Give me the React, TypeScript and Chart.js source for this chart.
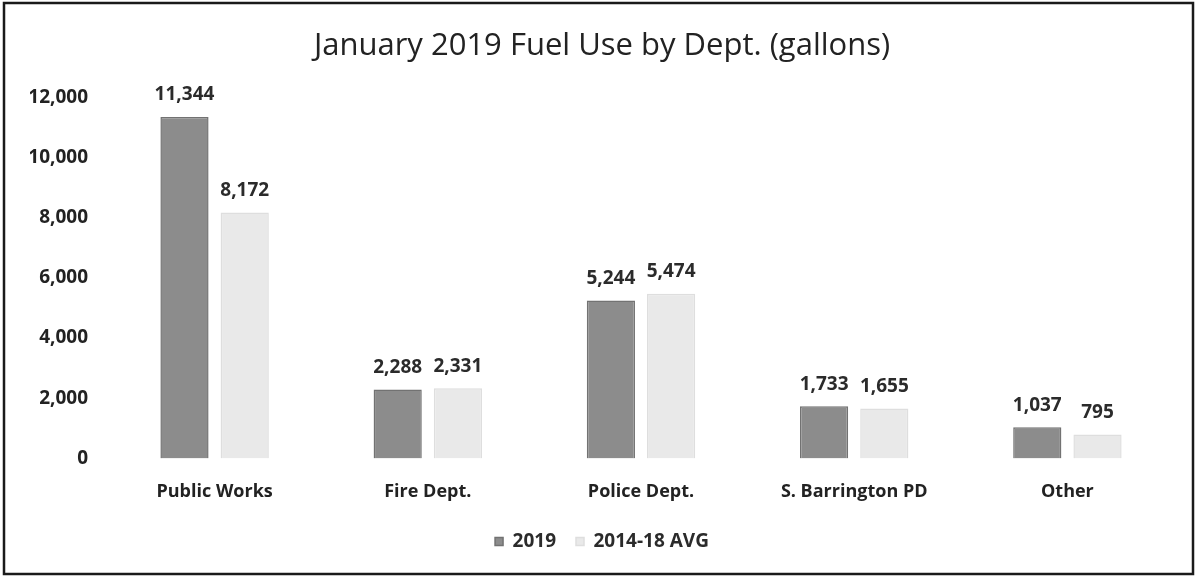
import React, { useEffect, useRef } from "react";
import { Chart, registerables } from "chart.js";

Chart.register(...registerables);

const categories = ["Public Works", "Fire Dept.", "Police Dept.", "S. Barrington PD", "Other"];
const values2019 = [11344, 2288, 5244, 1733, 1037];
const valuesAvg = [8172, 2331, 5474, 1655, 795];
const seriesNames = ["2019", "2014-18 AVG"];
const titleText = "January 2019 Fuel Use by Dept. (gallons)";

const FONT = "'Open Sans', Lato, sans-serif";

const frame = {
  id: "frame",
  afterDraw(chart: any) {
    const ctx = chart.ctx;
    ctx.save();
    ctx.strokeStyle = "#1a1a1a";
    ctx.lineWidth = 2.5;
    ctx.strokeRect(4, 3, chart.width - 8, chart.height - 6);
    ctx.restore();
  },
};

const dataLabels = {
  id: "dataLabels",
  afterDatasetsDraw(chart: any) {
    const ctx = chart.ctx;
    ctx.save();
    ctx.font = `bold 19px ${FONT}`;
    ctx.fillStyle = "#2b2b2b";
    ctx.textAlign = "center";
    ctx.textBaseline = "middle";
    chart.data.datasets.forEach((ds: any, i: number) => {
      const meta = chart.getDatasetMeta(i);
      meta.data.forEach((bar: any, j: number) => {
        const v = ds.data[j] as number;
        ctx.fillText(v.toLocaleString("en-US"), bar.x, bar.y - 22);
      });
    });
    ctx.restore();
  },
};

export default function App() {
  const ref = useRef<HTMLCanvasElement | null>(null);
  useEffect(() => {
    document.body.style.margin = "0";
    const chart = new Chart(ref.current as HTMLCanvasElement, {
      type: "bar",
      data: {
        labels: categories,
        datasets: [
          {
            label: seriesNames[0],
            data: values2019,
            backgroundColor: "#8c8c8c",
            borderColor: "#727272",
            borderWidth: 1.5,
            barPercentage: 0.8,
            categoryPercentage: 0.565,
          },
          {
            label: seriesNames[1],
            data: valuesAvg,
            backgroundColor: "#e9e9e9",
            borderColor: "#dedede",
            borderWidth: 1.5,
            barPercentage: 0.8,
            categoryPercentage: 0.565,
          },
        ],
      },
      options: {
        responsive: false,
        animation: false,
        layout: { padding: { left: 30, right: 23, top: 0, bottom: 16 } },
        plugins: {
          title: {
            display: true,
            text: titleText,
            color: "#222",
            font: { family: FONT, size: 31, weight: "normal" },
            padding: { top: 28, bottom: 32 },
          },
          legend: {
            position: "bottom",
            labels: {
              color: "#2b2b2b",
              font: { family: FONT, size: 19, weight: "bold" },
              boxWidth: 8,
              boxHeight: 8,
              padding: 20,
            },
          },
          tooltip: { enabled: false },
        },
        scales: {
          x: {
            grid: { display: false, drawTicks: false },
            border: { display: false },
            afterFit(scale: any) {
              scale.height -= 14;
            },
            ticks: {
              color: "#222",
              font: { family: FONT, size: 18, weight: "bold" },
              padding: 23,
              maxRotation: 0,
            },
          },
          y: {
            min: 0,
            max: 12000,
            grid: { display: false, drawTicks: false },
            border: { display: false },
            afterFit(scale: any) {
              scale.width = 78;
            },
            ticks: {
              stepSize: 2000,
              color: "#222",
              font: { family: FONT, size: 19, weight: "bold" },
              padding: 20,
              callback: (v: any) => Number(v).toLocaleString("en-US"),
            },
          },
        },
      },
      plugins: [dataLabels, frame],
    });
    return () => chart.destroy();
  }, []);
  return <canvas ref={ref} width={1197} height={577} style={{ display: "block" }} />;
}
